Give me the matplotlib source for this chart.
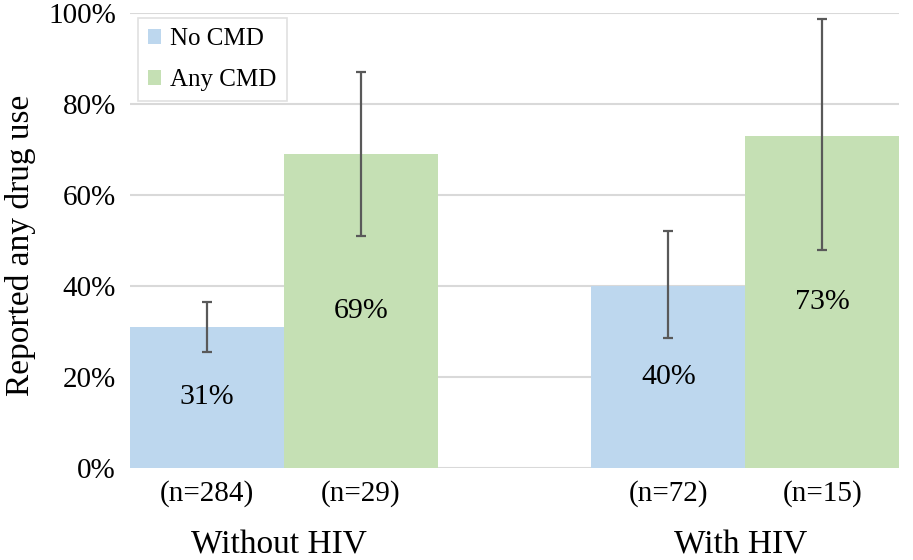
import numpy as np
import matplotlib as mpl
mpl.use('Agg')
import matplotlib.pyplot as plt
import matplotlib.transforms as mtransforms

mpl.rcParams['font.family'] = ['Liberation Serif', 'DejaVu Serif']

groups = ['Without HIV', 'With HIV']
series = ['No CMD', 'Any CMD']
colors = ['#BDD7EE', '#C5E0B4']
values = {'No CMD': [31, 40], 'Any CMD': [69, 73]}
err_lo = {'No CMD': [25.6, 28.5], 'Any CMD': [51, 48]}
err_hi = {'No CMD': [36.5, 52], 'Any CMD': [87, 98.7]}
nlabels = {'No CMD': ['(n=284)', '(n=72)'], 'Any CMD': ['(n=29)', '(n=15)']}

fig = plt.figure(figsize=(9.13, 5.6), dpi=100)
ax = fig.add_axes([0.1424, 0.1643, 0.8423, 0.8125])

group_pos = np.array([1.0, 4.0])
width = 1.0
tickpos, ticklab = [], []
for i, s in enumerate(series):
    x = group_pos + (i - 0.5) * width
    vals = np.array(values[s])
    yerr = [vals - np.array(err_lo[s]), np.array(err_hi[s]) - vals]
    ax.bar(x, vals, width=width, color=colors[i], label=s, zorder=2)
    ax.errorbar(x, vals, yerr=yerr, fmt='none', ecolor='#595959',
                elinewidth=1.6, capsize=3.5, capthick=1.6, zorder=3)
    for xx, v in zip(x, vals):
        ax.text(xx, v / 2, '{}%'.format(v), ha='center', va='center',
                fontsize=21.5, color='black', zorder=4)
    tickpos.extend(x)
    ticklab.extend(nlabels[s])

ax.set_xlim(0, 5)
ax.set_ylim(0, 100)
ax.set_yticks(range(0, 101, 20))
ax.set_yticklabels(['{}%'.format(t) for t in range(0, 101, 20)], fontsize=21)
ax.set_xticks(tickpos)
ax.set_xticklabels(ticklab, fontsize=21)
ax.tick_params(axis='both', length=0)
ax.tick_params(axis='x', pad=9)
ax.tick_params(axis='y', pad=10)
ax.yaxis.grid(True, color='#D9D9D9', linewidth=1.5, zorder=0)
ax.set_axisbelow(True)
for sp in ax.spines.values():
    sp.set_visible(False)

trans = mtransforms.blended_transform_factory(ax.transData, fig.transFigure)
for gp, g in zip(group_pos, groups):
    ax.text(gp - 0.03, 1 - 545 / 560, g, transform=trans, ha='center',
            va='center', fontsize=24)

fig.text(21 / 913, 1 - 245 / 560, 'Reported any drug use', rotation=90,
         ha='center', va='center', fontsize=24)

leg = ax.legend(loc='upper left', bbox_to_anchor=(0.01, 0.988), fontsize=18,
                frameon=True, fancybox=False, edgecolor='#D9D9D9',
                handlelength=0.55, handleheight=0.55, handletextpad=0.35,
                borderpad=0.4, labelspacing=0.75, borderaxespad=0)
leg.get_frame().set_linewidth(1.2)

fig.savefig('out.png', dpi=100)
